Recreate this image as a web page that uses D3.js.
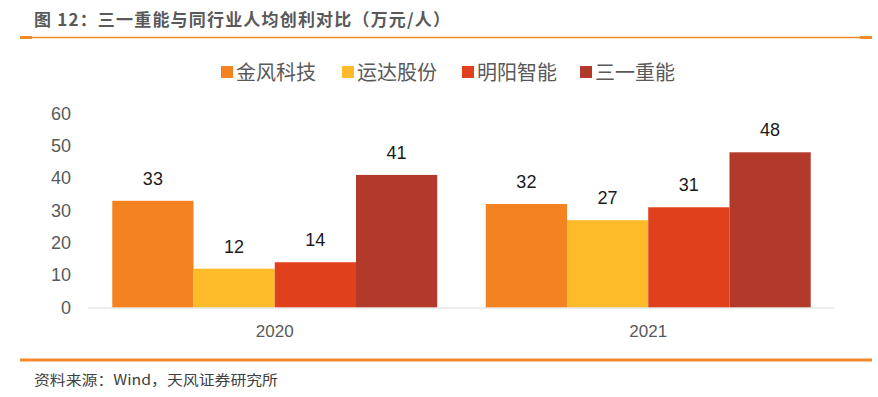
<!DOCTYPE html>
<html>
<head>
<meta charset="utf-8">
<script src="https://cdn.jsdelivr.net/npm/d3@7"></script>
<style>
  body { margin: 0; background: #fff; }
  svg { display: block; font-family: "Noto Sans CJK SC", "Liberation Sans", sans-serif; }
</style>
</head>
<body>
<svg id="chart" width="878" height="397"></svg>
<script>
const years = ['2020', '2021'];
const companies = ['金风科技', '运达股份', '明阳智能', '三一重能'];
const values = {
  '金风科技': [33, 32],
  '运达股份': [12, 27],
  '明阳智能': [14, 31],
  '三一重能': [41, 48]
};
const yTicks = [0, 10, 20, 30, 40, 50, 60];
const colors = ['#f58220', '#fdbb2a', '#e0401b', '#b3392b'];

const svg = d3.select('#chart');

// title + rule
svg.append('text')
  .attr('x', 34).attr('y', 26)
  .attr('font-size', 17).attr('font-weight', 'bold')
  .attr('fill', '#595959')
  .attr('textLength', 416).attr('lengthAdjust', 'spacing')
  .text('图 12：三一重能与同行业人均创利对比（万元/人）');
svg.append('line').attr('x1', 20).attr('x2', 872).attr('y1', 37.5).attr('y2', 37.5)
  .attr('stroke', '#f58a2b').attr('stroke-width', 1.3);
svg.append('rect').attr('x', 20).attr('y', 36).attr('width', 12).attr('height', 3).attr('fill', '#f58a2b');
svg.append('rect').attr('x', 860).attr('y', 36).attr('width', 12).attr('height', 3).attr('fill', '#f58a2b');

// legend
const legendX = [221, 342, 462, 580];
const legend = svg.append('g');
companies.forEach((c, i) => {
  legend.append('rect').attr('x', legendX[i]).attr('y', 66).attr('width', 12).attr('height', 12).attr('fill', colors[i]);
  legend.append('text').attr('x', legendX[i] + 15).attr('y', 80)
    .attr('font-size', 20).attr('fill', '#595959').text(c);
});

const y = d3.scaleLinear().domain([0, 60]).range([307.5, 113.5]);
const x0 = d3.scaleBand().domain(years).range([88, 835]).paddingInner(0.13).paddingOuter(0.065);
const x1 = d3.scaleBand().domain(companies).range([0, x0.bandwidth()]);

// y axis labels
const yAxis = svg.append('g').attr('transform', 'translate(71,0)')
  .call(d3.axisLeft(y).tickValues(yTicks).tickSize(0).tickPadding(0));
yAxis.select('.domain').remove();
yAxis.selectAll('text').attr('font-size', 18).attr('fill', '#595959')
  .attr('font-family', '"Liberation Sans", Arial, sans-serif');

// bars
const groups = svg.append('g').selectAll('g').data(years).join('g')
  .attr('transform', d => `translate(${x0(d)},0)`);
groups.selectAll('rect')
  .data((d, yi) => companies.map((c, ci) => ({ c, ci, v: values[c][yi] })))
  .join('rect')
  .attr('x', d => x1(d.c))
  .attr('width', x1.bandwidth())
  .attr('y', d => y(d.v))
  .attr('height', d => y(0) - y(d.v))
  .attr('fill', d => colors[d.ci]);
groups.selectAll('text')
  .data((d, yi) => companies.map((c, ci) => ({ c, ci, v: values[c][yi] })))
  .join('text')
  .attr('x', d => x1(d.c) + x1.bandwidth() / 2)
  .attr('y', d => y(d.v) - 16)
  .attr('text-anchor', 'middle')
  .attr('font-size', 18)
  .attr('fill', '#1a1a1a')
  .attr('font-family', '"Liberation Sans", Arial, sans-serif')
  .text(d => d.v);

// x axis
svg.append('line').attr('x1', 88).attr('x2', 834).attr('y1', y(0) + 0.5).attr('y2', y(0) + 0.5)
  .attr('stroke', '#d9d9d9').attr('stroke-width', 1.2);
const xAxis = svg.append('g').attr('transform', `translate(0,${y(0)})`)
  .call(d3.axisBottom(x0).tickSize(0).tickPadding(17));
xAxis.select('.domain').remove();
xAxis.selectAll('text').attr('font-size', 17).attr('fill', '#595959')
  .attr('font-family', '"Liberation Sans", Arial, sans-serif');

// bottom rule + source
svg.append('line').attr('x1', 20).attr('x2', 872).attr('y1', 360).attr('y2', 360)
  .attr('stroke', '#f58a2b').attr('stroke-width', 3);
svg.append('text').attr('x', 34).attr('y', 385)
  .attr('font-size', 14).attr('fill', '#404040')
  .attr('textLength', 244).attr('lengthAdjust', 'spacingAndGlyphs')
  .text('资料来源：Wind，天风证券研究所');
</script>
</body>
</html>
